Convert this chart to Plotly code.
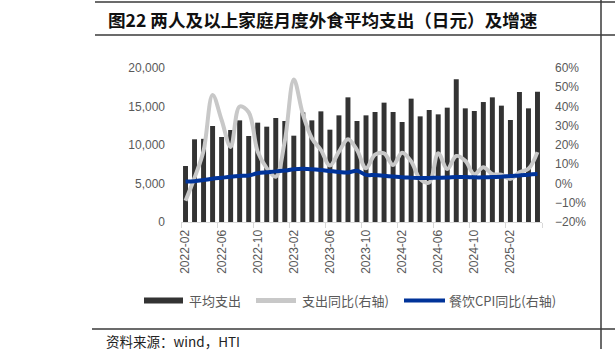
import plotly.graph_objects as go

# ---------------- data ----------------
months = [
    "2022-02", "2022-03", "2022-04", "2022-05", "2022-06", "2022-07", "2022-08", "2022-09",
    "2022-10", "2022-11", "2022-12", "2023-01", "2023-02", "2023-03", "2023-04", "2023-05",
    "2023-06", "2023-07", "2023-08", "2023-09", "2023-10", "2023-11", "2023-12", "2024-01",
    "2024-02", "2024-03", "2024-04", "2024-05", "2024-06", "2024-07", "2024-08", "2024-09",
    "2024-10", "2024-11", "2024-12", "2025-01", "2025-02", "2025-03", "2025-04", "2025-05",
]
avg_spend = [
    7270, 10740, 10800, 12470, 11040, 11950, 13200, 11170, 12900, 12380,
    13510, 13120, 11210, 14240, 13200, 14370, 11990, 13850, 16190, 13120,
    13850, 14290, 15500, 14290, 12990, 16020, 13720, 14550, 13980, 14850,
    18530, 14760, 14420, 15580, 16190, 15110, 13250, 16880, 14760, 16930,
]
spend_yoy = [
    -9.0, 3.0, 17.0, 46.0, 33.0, 19.0, 40.0, 37.0, 16.5, 8.0,
    3.5, 22.0, 54.0, 36.0, 23.5, 17.4, 9.3, 16.5, 23.0, 17.4,
    7.9, 15.0, 15.7, 9.6, 16.0, 11.5, 2.3, 0.5, 15.7, 7.5,
    14.3, 11.8, 4.8, 8.4, 4.9, 4.6, 2.4, 5.8, 7.6, 16.3,
]
cpi_yoy = [
    1.0, 1.2, 1.8, 2.5, 3.0, 3.5, 3.9, 4.2, 5.3, 5.8,
    6.3, 6.7, 7.4, 7.6, 7.4, 7.0, 6.5, 6.0, 5.7, 6.6,
    4.5, 4.4, 4.0, 3.6, 3.2, 3.0, 2.8, 2.9, 3.0, 3.1,
    3.4, 3.4, 3.2, 3.2, 3.4, 3.5, 3.9, 4.2, 4.6, 4.9,
]
series_names = ["平均支出", "支出同比(右轴)", "餐饮CPI同比(右轴)"]
title_text = "图22 两人及以上家庭月度外食平均支出（日元）及增速"
source_text = "资料来源：wind，HTI"

# ---------------- style ----------------
W, H = 615, 359
L, R, T, B = 181, 73, 68, 137
PW, PH = W - L - R, H - T - B
BAR_C = "#333333"
GREY_C = "#c8c8c8"
BLUE_C = "#003399"
TICK_C = "#595959"
NUM_FONT = "Liberation Sans"
CJK_FONT = "Noto Sans CJK SC"


def px(x):
    return (x - L) / PW


def py(y):
    return 1 - (y - T) / PH


fig = go.Figure()
fig.add_trace(go.Bar(x=months, y=avg_spend, name=series_names[0],
                     marker=dict(color=BAR_C, line=dict(width=0)), yaxis="y"))
fig.add_trace(go.Scatter(x=months, y=spend_yoy, name=series_names[1], mode="lines",
                         line=dict(color=GREY_C, width=4, shape="spline", smoothing=1.0),
                         yaxis="y2"))
fig.add_trace(go.Scatter(x=months, y=cpi_yoy, name=series_names[2], mode="lines",
                         line=dict(color=BLUE_C, width=4, shape="spline", smoothing=1.0),
                         yaxis="y2"))

shapes = []
annotations = []

# frame lines of the report table
line_c = "#3a3a3a"
shapes.append(dict(type="line", xref="paper", yref="paper", x0=px(95), x1=px(615), y0=py(2), y1=py(2),
                   line=dict(color=line_c, width=1.5)))
shapes.append(dict(type="line", xref="paper", yref="paper", x0=px(95), x1=px(615), y0=py(35), y1=py(35),
                   line=dict(color=line_c, width=1.5)))
shapes.append(dict(type="line", xref="paper", yref="paper", x0=px(92), x1=px(615), y0=py(329), y1=py(329),
                   line=dict(color=line_c, width=1.5)))
shapes.append(dict(type="line", xref="paper", yref="paper", x0=px(601), x1=px(601), y0=py(0), y1=py(349),
                   line=dict(color=line_c, width=1.5)))

# manual legend
shapes.append(dict(type="rect", xref="paper", yref="paper", x0=px(144), x1=px(183), y0=py(303.5), y1=py(297.5),
                   fillcolor=BAR_C, line=dict(width=0)))
shapes.append(dict(type="line", xref="paper", yref="paper", x0=px(256), x1=px(296), y0=py(300.5), y1=py(300.5),
                   line=dict(color=GREY_C, width=5)))
shapes.append(dict(type="line", xref="paper", yref="paper", x0=px(404), x1=px(445), y0=py(300.5), y1=py(300.5),
                   line=dict(color=BLUE_C, width=4)))
for name, xl in zip(series_names, [187, 300, 447]):
    annotations.append(dict(text=name, xref="paper", yref="paper", x=px(xl), y=py(300),
                            xanchor="left", yanchor="middle", showarrow=False,
                            font=dict(family=CJK_FONT, size=13, color=TICK_C)))

# title and source
annotations.append(dict(text="<b>" + title_text + "</b>", xref="paper", yref="paper", x=px(106), y=py(19),
                        xanchor="left", yanchor="middle", showarrow=False,
                        font=dict(family=CJK_FONT, size=17.6, color="#111111")))
annotations.append(dict(text=source_text, xref="paper", yref="paper", x=px(104), y=py(341),
                        xanchor="left", yanchor="middle", showarrow=False,
                        font=dict(family=CJK_FONT, size=13.5, color="#222222")))

fig.update_layout(
    width=W, height=H, autosize=False,
    margin=dict(l=L, r=R, t=T, b=B, pad=0),
    paper_bgcolor="white", plot_bgcolor="white",
    showlegend=False, bargap=0.45,
    shapes=shapes, annotations=annotations,
    xaxis=dict(type="category", tickmode="linear", tick0=0, dtick=4, tickson="boundaries",
               ticks="outside", ticklen=5, tickcolor="#d9d9d9", showline=True, linecolor="#d9d9d9",
               linewidth=1, showgrid=False, tickangle=-90,
               tickfont=dict(family=NUM_FONT, size=12, color=TICK_C), ticklabelstandoff=2),
    yaxis=dict(range=[0, 20000], dtick=5000, tickformat=",d", showgrid=False, zeroline=False,
               showline=False, ticks="", tickfont=dict(family=NUM_FONT, size=12, color=TICK_C),
               ticklabelstandoff=15),
    yaxis2=dict(range=[-20, 60], dtick=10, ticksuffix="%", overlaying="y", side="right",
                showgrid=False, zeroline=False, showline=False, ticks="",
                tickfont=dict(family=NUM_FONT, size=12, color=TICK_C), ticklabelstandoff=12),
)

fig.write_html("out.html")
